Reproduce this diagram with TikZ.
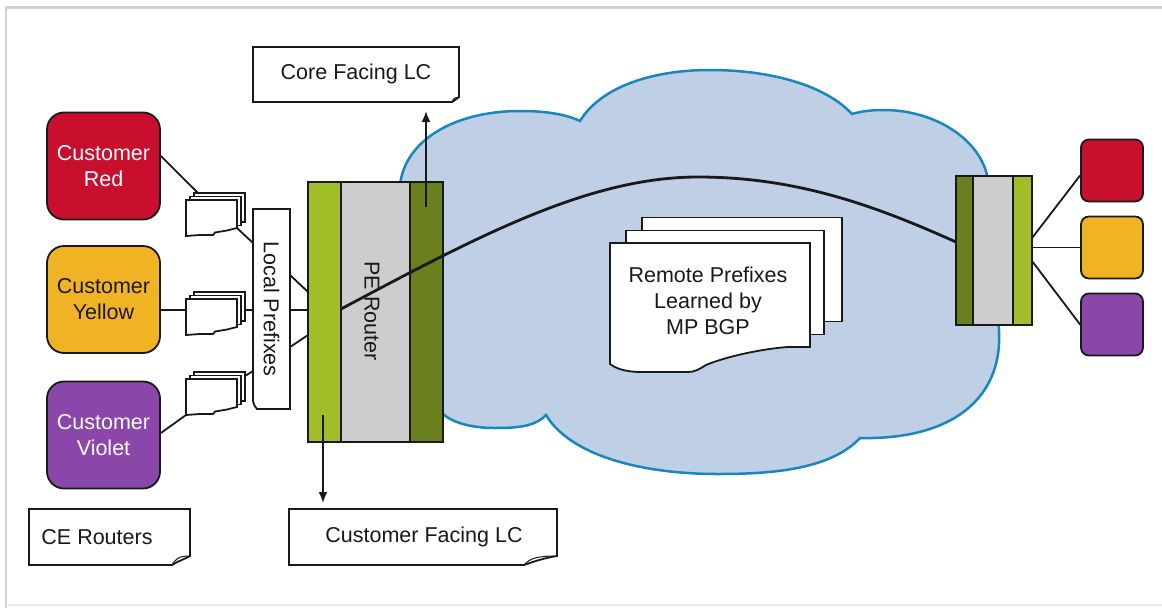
\documentclass[tikz,border=0pt]{standalone}
\usepackage{fontspec}
\setmainfont{Liberation Sans}
\usetikzlibrary{arrows.meta,calc}
\definecolor{cred}{RGB}{200,16,46}
\definecolor{cyel}{RGB}{240,179,35}
\definecolor{cvio}{RGB}{138,70,168}
\definecolor{lgreen}{RGB}{160,190,40}
\definecolor{dgreen}{RGB}{106,128,30}
\definecolor{rgray}{RGB}{205,205,205}
\definecolor{cloudfill}{RGB}{190,207,230}
\definecolor{cloudline}{RGB}{25,135,190}
\definecolor{framegray}{RGB}{208,208,208}
\definecolor{ink}{RGB}{25,25,25}
\tikzset{
  txt/.style={font=\fontsize{21.5}{26}\selectfont, align=center, inner sep=0pt, text=ink},
  cust/.style={draw=ink, line width=1.8pt, rounded corners=17pt, minimum width=113pt, minimum height=107pt, txt},
  rcust/.style={draw=ink, line width=1.8pt, rounded corners=8pt, minimum width=62pt, minimum height=62pt, inner sep=0pt},
  blk/.style={draw=ink, line width=1.8pt, inner sep=0pt},
  conn/.style={draw=ink, line width=1.8pt},
  sheet/.style={draw=ink, line width=1.8pt, fill=white},
  arr/.style={draw=ink, line width=1.8pt, -{Latex[length=11pt,width=9pt]}},
  sstack/.pic={
    \draw[sheet] (8,-7) rectangle (59,22);
    \draw[sheet] (4,-3.5) rectangle (55,25.5);
    \draw[sheet] (0,0) -- (51,0) -- (51,28) -- (41,30.5) -- (29,32.5) -- (27,35) -- (14,35) -- (0,36) -- cycle;
  },
  bstack/.pic={
    \draw[sheet] (32,-25.5) rectangle (232,78.5);
    \draw[sheet] (16,-12.5) rectangle (214,91.5);
    \draw[sheet] (0,0) -- (200,0) -- (200,104) -- (178,104) .. controls (150,106) and (115,114) .. (96,122) .. controls (88,127) and (84,129) .. (78,129) -- (31,129) .. controls (15,129) and (5,125) .. (0,121) -- cycle;
  }
}
\begin{document}
\begin{tikzpicture}[x=1pt,y=-1pt]
\useasboundingbox (0,0) rectangle (1162,608);
\fill[white] (0,0) rectangle (1162,608);
\draw[framegray, line width=2.5pt] (6,608) -- (6,7.5) -- (1162,7.5);
\draw[black!8, line width=1.5pt] (6,605) -- (1162,605);

% cloud
\path[fill=cloudfill, draw=cloudline, line width=2.5pt]
  (430,430) -- (400,300) -- (400,185)
  .. controls (405,140) and (455,111) .. (520,111)
  .. controls (545,111) and (565,114) .. (580,121)
  .. controls (600,88) and (650,70) .. (710,70)
  .. controls (770,70) and (825,85) .. (852,114)
  .. controls (862,111) and (873,110) .. (884,110)
  .. controls (935,110) and (982,140) .. (988,180)
  -- (999,330)
  .. controls (1003,400) and (950,440) .. (860,438)
  .. controls (830,470) and (770,474) .. (718,474)
  .. controls (640,474) and (570,455) .. (546,415)
  .. controls (535,427) and (515,428) .. (495,428)
  .. controls (470,428) and (450,422) .. (441,412)
  -- cycle;

% customer boxes (left)
\node[cust, fill=cred, text=white] (red) at (103.5,166) {Customer\\Red};
\node[cust, fill=cyel] (yel) at (103.5,299.5) {Customer\\Yellow};
\node[cust, fill=cvio, text=white] (vio) at (103.5,435) {Customer\\Violet};

% small prefix stacks
\pic at (186,200) {sstack};
\pic at (186,299) {sstack};
\pic at (186,379) {sstack};

% local prefixes
\draw[sheet] (253,209) -- (290,209) -- (290,409) -- (257,409) .. controls (255,407) and (254,405) .. (253,401) -- cycle;
\node[txt, rotate=-90] (lp) at (271.5,309) {Local Prefixes};

% PE router
\node[blk, fill=lgreen, minimum width=33pt, minimum height=260pt] (pel) at (324.5,312) {};
\node[blk, fill=rgray, minimum width=69pt, minimum height=260pt] (pem) at (375.5,312) {};
\node[blk, fill=dgreen, minimum width=33pt, minimum height=260pt] (ped) at (426.5,312) {};
\node[txt, rotate=-90] (pet) at (372,311) {PE Router};

% remote router
\node[blk, fill=dgreen, minimum width=17pt, minimum height=149pt] (rdk) at (964.5,250.5) {};
\node[blk, fill=rgray, minimum width=40pt, minimum height=149pt] (rgr) at (993,250.5) {};
\node[blk, fill=lgreen, minimum width=19pt, minimum height=149pt] (rlg) at (1022.5,250.5) {};

% remote customer boxes
\node[rcust, fill=cred] (rred) at (1112,170.5) {};
\node[rcust, fill=cyel] (ryel) at (1112,247.5) {};
\node[rcust, fill=cvio] (rvio) at (1112,324.5) {};

% remote prefixes stack
\pic at (610,243) {bstack};
\node[txt] (remote) at (708,301) {Remote Prefixes\\Learned by\\MP BGP};

% coordinates
\coordinate (s1a) at (198,193);
\coordinate (s1b) at (237,228);
\coordinate (s2a) at (186,310);
\coordinate (s2b) at (245,310);
\coordinate (s3a) at (186,415);
\coordinate (s3b) at (245,376);
\coordinate (lpL1) at (253,243);
\coordinate (lpL2) at (253,310);
\coordinate (lpL3) at (253,371);
\coordinate (lpR1) at (290,275);
\coordinate (lpR2) at (290,310);
\coordinate (lpR3) at (290,347);
\coordinate (peL1) at (308,292);
\coordinate (peL2) at (308,310);
\coordinate (peL3) at (308,335);
\coordinate (c0) at (341,309);
\coordinate (c1) at (956,242);
\coordinate (rr1) at (1032,238);
\coordinate (rr2) at (1032,247.5);
\coordinate (rr3) at (1032,261);
\coordinate (upA) at (426,207);
\coordinate (upB) at (426,111);
\coordinate (dnA) at (323,415);
\coordinate (dnB) at (323,503);

% connectors
\draw[conn] ($(red.east)+(0,-10)$) -- (s1a);
\draw[conn] (s1b) -- (lpL1);
\draw[conn] (lpR1) -- (peL1);
\draw[conn] ($(yel.east)+(0,10.5)$) -- (s2a);
\draw[conn] (s2b) -- (lpL2);
\draw[conn] (lpR2) -- (peL2);
\draw[conn] ($(vio.east)+(0,-2)$) -- (s3a);
\draw[conn] (s3b) -- (lpL3);
\draw[conn] (lpR3) -- (peL3);
\draw[conn] (rr1) -- ($(rred.west)+(0,5)$);
\draw[conn] (rr2) -- (ryel.west);
\draw[conn] (rr3) -- (rvio.west);

% MP-BGP session curve
\draw[ink, line width=2.8pt] (c0) .. controls (480,235) and (590,177) .. (698,177)
  .. controls (800,177) and (880,208) .. (c1);

% arrows
\draw[arr] (upA) -- (upB);
\draw[arr] (dnA) -- (dnB);

% label boxes with page curl
\draw[sheet] (253,47) -- (459,47) -- (459,97) .. controls (457,99) and (455,100) .. (452,102) -- (253,102) -- cycle;
\draw[ink, line width=1pt] (452,102) .. controls (454,98) .. (459,97);
\node[txt] (core) at (356,74) {Core Facing LC};

\draw[sheet] (29,509) -- (190,509) -- (190,556) .. controls (185,559) and (178,561) .. (172,565) -- (29,565) -- cycle;
\draw[ink, line width=1pt] (172,565) .. controls (176,558) and (180,556) .. (190,556);
\node[txt] (ce) at (97,537) {CE Routers};

\draw[sheet] (289,509) -- (557,509) -- (557,556) .. controls (545,558) and (535,561) .. (524,565) -- (289,565) -- cycle;
\draw[ink, line width=1pt] (524,565) .. controls (530,558) and (538,556) .. (557,556);
\node[txt] (cfl) at (424,537) {Customer Facing LC};
\end{tikzpicture}
\end{document}
